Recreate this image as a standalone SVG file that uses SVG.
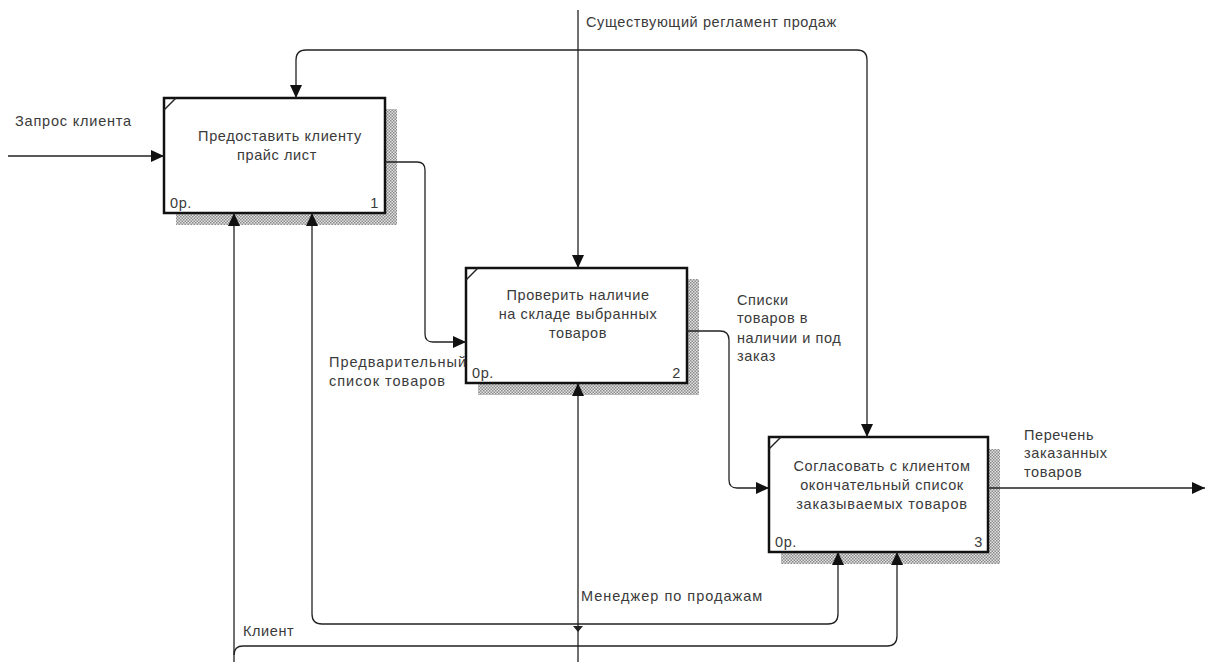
<svg xmlns="http://www.w3.org/2000/svg" width="1210" height="662" viewBox="0 0 1210 662">
<style>
text{font-family:"Liberation Sans",Arial,sans-serif;font-size:14.5px;letter-spacing:.6px;fill:#3a3a3a}
.m{text-anchor:middle}
.e{text-anchor:end}
.box{fill:#fff;stroke:#111;stroke-width:2.5}
.shadow{fill:url(#hatch)}
.tick{fill:none;stroke:#222;stroke-width:1.5}
.c{fill:none;stroke:#222;stroke-width:1.3}
.a{marker-end:url(#arrow)}
.w{letter-spacing:1px}
.s{letter-spacing:.8px}
</style>
<defs>
<pattern id="hatch" width="3" height="3" patternUnits="userSpaceOnUse">
<rect width="3" height="3" fill="#e2e2e2"/>
<rect width="1.5" height="1.5" fill="#8a8a8a"/>
<rect x="1.5" y="1.5" width="1.5" height="1.5" fill="#8a8a8a"/>
</pattern>
<marker id="arrow" markerUnits="userSpaceOnUse" markerWidth="14" markerHeight="12" refX="13" refY="6" orient="auto">
<path d="M0 0L13 6L0 12Z" fill="#111"/>
</marker>
</defs>
<rect width="1210" height="662" fill="#fff"/>
<g id="node-1">
<path class="shadow" d="M385 109H397V225H176V213H385Z"/>
<rect class="box" x="164" y="98" width="221" height="115"/>
<path class="tick" d="M164 110L176 98"/>
<text class="m" x="280" y="141">Предоставить клиенту</text>
<text class="m" x="277" y="160">прайс лист</text>
<text x="170" y="208">0р.</text>
<text class="e" x="379" y="208">1</text>
</g>
<g id="node-2">
<path class="shadow" d="M687 279H699V395H478V383H687Z"/>
<rect class="box" x="466" y="268" width="221" height="115"/>
<path class="tick" d="M466 280L478 268"/>
<text class="m" x="578" y="300">Проверить наличие</text>
<text class="m" x="578" y="319">на складе выбранных</text>
<text class="m" x="578" y="338">товаров</text>
<text x="472" y="378">0р.</text>
<text class="e" x="681" y="378">2</text>
</g>
<g id="node-3">
<path class="shadow" d="M988 449H1000V564H781V552H988Z"/>
<rect class="box" x="769" y="437" width="219" height="115"/>
<path class="tick" d="M769 449L781 437"/>
<text class="m" x="882" y="471">Согласовать с клиентом</text>
<text class="m" x="882" y="490">окончательный список</text>
<text class="m s" x="882" y="509">заказываемых товаров</text>
<text x="775" y="547">0р.</text>
<text class="e" x="983" y="547">3</text>
</g>
<g id="connectors">
<path class="c a" d="M578 10V268"/>
<path class="c a" d="M578 50H306Q296 50 296 60V98"/>
<path class="c a" d="M578 50H857Q867 50 867 60V437"/>
<path class="c a" d="M8 156H164"/>
<path class="c a" d="M385 162H417Q425 162 425 170V334Q425 342 433 342H466"/>
<path class="c a" d="M687 331H720Q729 331 729 340V480Q729 488 737 488H769"/>
<path class="c a" d="M988 488H1205"/>
<path class="c a" d="M578 662V383"/>
<path class="c a" d="M578 624H322Q312 624 312 614V213"/>
<path class="c a" d="M578 624H828Q838 624 838 614V552"/>
<path class="c a" d="M234 662V213"/>
<path class="c" d="M234 655Q234 646 243 646H887Q897 646 897 636V570"/>
<path class="c a" d="M897 570V552"/>
<path d="M573 626L578 632L583 626Z" fill="#222"/>
</g>
<g id="labels">
<text x="586" y="27">Существующий регламент продаж</text>
<text class="s" x="15" y="126">Запрос клиента</text>
<text class="w" x="329" y="367">Предварительный</text>
<text class="w" x="329" y="386">список товаров</text>
<text x="737" y="305">Списки</text>
<text x="737" y="323">товаров в</text>
<text x="737" y="343">наличии и под</text>
<text x="737" y="361">заказ</text>
<text x="1024" y="440">Перечень</text>
<text x="1024" y="458">заказанных</text>
<text x="1024" y="477">товаров</text>
<text class="w" x="581" y="601">Менеджер по продажам</text>
<text x="243" y="636">Клиент</text>
</g>
</svg>
